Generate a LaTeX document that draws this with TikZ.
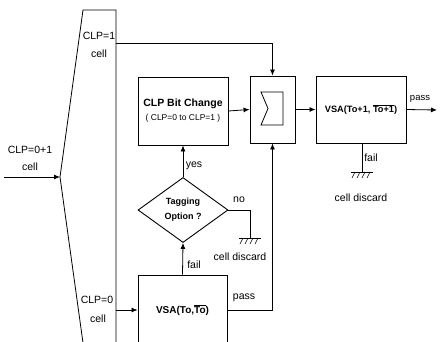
\documentclass[tikz,border=0pt]{standalone}
\usepackage{fontspec}
\setmainfont{Liberation Sans}
\usetikzlibrary{arrows.meta,shapes.geometric,calc}

\begin{document}
\begin{tikzpicture}[x=1pt, y=-1pt,
	wire/.style={line width=0.8pt},
	flow/.style={wire, -{Latex[length=6pt, width=5pt]}},
	blk/.style={draw, line width=0.9pt, inner sep=0pt},
	lbl/.style={inner sep=0pt, font=\fontsize{10.5}{12}\selectfont}]
	% Rahmen
	\clip (0,0) rectangle (446,341);

	% Demultiplexer links
	\draw[wire] (116,350) -- (116,10) -- (83,10) -- (60,177) -- (84,350);
	\coordinate (dmxin) at (60,177);
	\coordinate (dmxone) at (116,43);
	\coordinate (dmxzero) at (116,310);
	\coordinate (src) at (4,177);
	\coordinate (sink) at (437,110);
	\coordinate (gndA) at (250,238);
	\coordinate (gndB) at (362,172);

	% Bloecke
	\node[blk, minimum width=45pt, minimum height=67pt] (sum) at (272.5,109.5) {};
	\draw[wire, shift={(sum.center)}] (-11.5,-17.5) -- (10.5,-17.5) -- (10.5,15.5)
		-- (-11.5,15.5) -- (-4.5,-1) -- cycle;
	\node[blk, minimum width=90pt, minimum height=67pt,
		font=\fontsize{9.2}{11}\selectfont\bfseries] (vsaone) at (361,109.5)
		{VSA(To+1, $\overline{\mbox{To+1}}$)};
	\node[blk, minimum width=90pt, minimum height=68pt, align=center] (bitchg)
		at (183,111) {\fontsize{10.5}{12}\selectfont\bfseries CLP Bit Change\\[2pt]
		\fontsize{8.5}{9}\selectfont ( CLP=0 to CLP=1 )};
	\node[diamond, draw, line width=0.9pt, aspect=1.4, minimum width=90pt,
		minimum height=65pt, inner sep=0pt, align=center,
		font=\fontsize{9}{15}\selectfont\bfseries] (tag) at (183,210)
		{Tagging\\Option ?};
	\node[blk, minimum width=89pt, minimum height=70pt,
		font=\fontsize{10}{12}\selectfont\bfseries] (vsazero) at (182.5,310)
		{VSA(To,$\overline{\mbox{To}}$)};

	% Verbindungen
	\draw[flow] (src) -- (dmxin);
	\draw[flow] (dmxone) -| (sum.north);
	\draw[flow] (dmxzero) -- (vsazero.west);
	\draw[flow] (vsazero.north) -- (tag.south);
	\draw[flow] (tag.north) -- (bitchg.south);
	\draw[flow] (bitchg.east) -- (sum.west);
	\draw[flow] (vsazero.east) -| (sum.south);
	\draw[flow] (sum.east) -- (vsaone.west);
	\draw[flow] (vsaone.east) -- (sink);
	\draw[wire] (tag.east) -| (gndA);
	\draw[wire] (vsaone.south -| gndB) -- (gndB);

	% Erdung
	\foreach \g in {gndA, gndB} {
		\draw[wire] ($(\g)+(-11,0)$) -- ($(\g)+(11,0)$);
		\foreach \d in {-7,-2,3,8}
			\draw[line width=0.6pt] ($(\g)+(\d,0)$) -- ++(-3,6);
	}

	% Beschriftungen
	\node[lbl] (inclp) at (30,150) {CLP=0+1};
	\node[lbl] (incell) at (30,167) {cell};
	\node[lbl] (oneclp) at (99,36) {CLP=1};
	\node[lbl] (onecell) at (99,54) {cell};
	\node[lbl] (zeroclp) at (97,300) {CLP=0};
	\node[lbl] (zerocell) at (98,319) {cell};
	\node[lbl] (yes) at (194,166) {yes};
	\node[lbl] (no) at (239,200) {no};
	\node[lbl] (failA) at (194,265) {fail};
	\node[lbl] (passA) at (244,298) {pass};
	\node[lbl] (failB) at (371,158) {fail};
	\node[lbl, font=\fontsize{9.5}{11}\selectfont] (passB) at (420,99) {pass};
	\node[lbl] (discA) at (240,257) {cell discard};
	\node[lbl] (discB) at (361,198) {cell discard};
\end{tikzpicture}
\end{document}
